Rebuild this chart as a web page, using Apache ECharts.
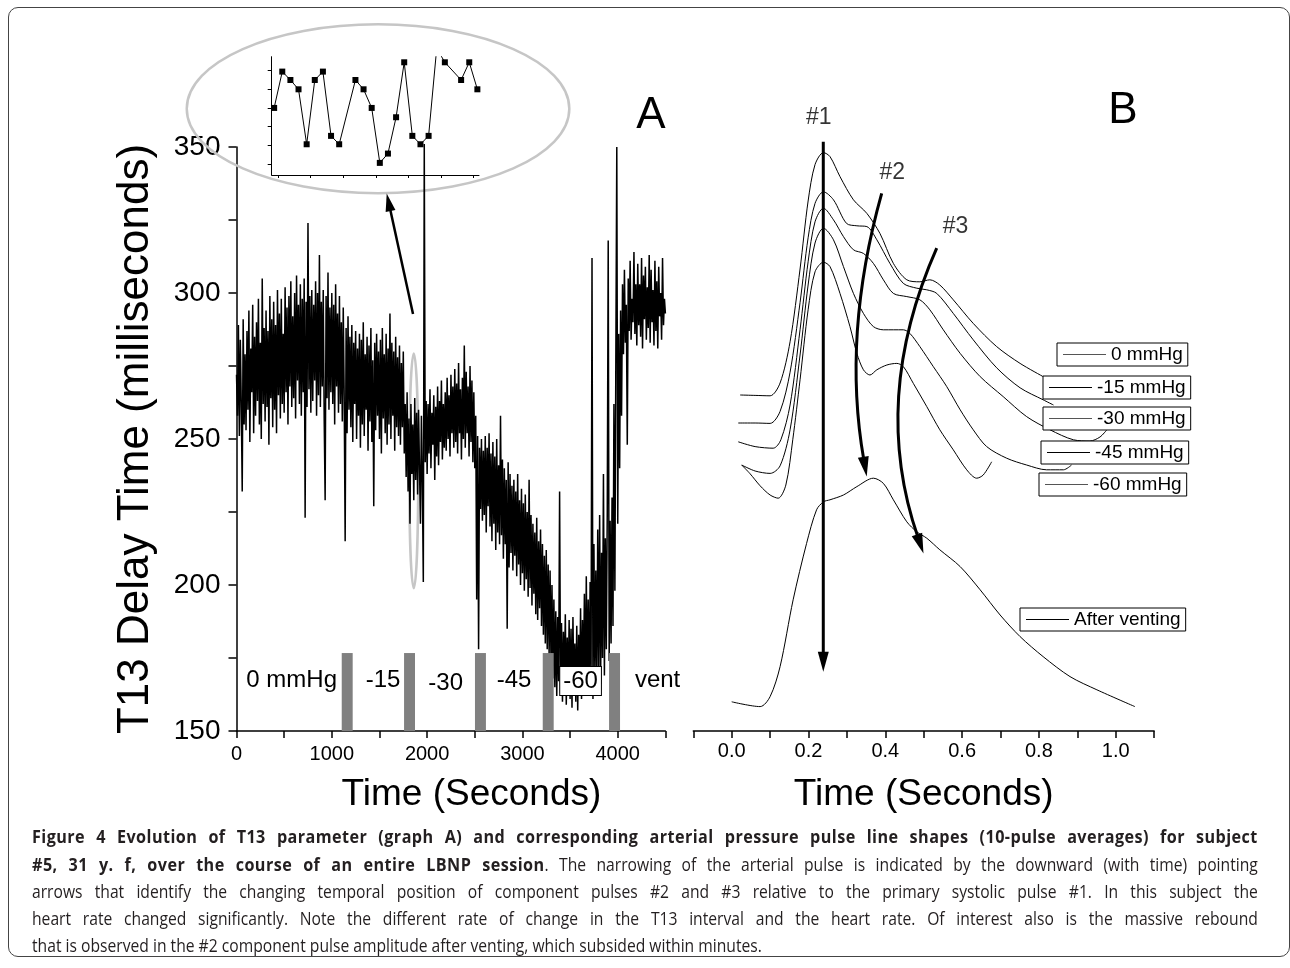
<!DOCTYPE html>
<html><head><meta charset="utf-8">
<script src="https://cdn.jsdelivr.net/npm/echarts@6.0.0/dist/echarts.min.js"></script>
<style>
html,body{margin:0;padding:0;background:#fff;width:1290px;height:968px;overflow:hidden}
#chart{position:absolute;left:0;top:0;width:1290px;height:968px}
#frame{position:absolute;left:8px;top:7px;width:1282px;height:950px;border:1px solid #444;border-radius:10px;box-sizing:border-box;pointer-events:none}
#cap{position:absolute;left:32px;top:822px;width:1409px;font-family:'Open Sans','Noto Sans',sans-serif;font-size:18px;line-height:27px;color:#231f20;transform:scaleX(0.87);transform-origin:0 0}
#cap .j{text-align:justify;text-align-last:justify}
#cap b{letter-spacing:0.5px;font-size:18.6px}
</style></head>
<body>
<div id="chart"></div>
<div id="frame"></div>
<div id="cap">
<div class="j"><b>Figure 4 Evolution of T13 parameter (graph A) and corresponding arterial pressure pulse line shapes (10-pulse averages) for subject</b></div>
<div class="j"><b>#5, 31 y. f, over the course of an entire LBNP session</b>. The narrowing of the arterial pulse is indicated by the downward (with time) pointing</div>
<div class="j">arrows that identify the changing temporal position of component pulses #2 and #3 relative to the primary systolic pulse #1. In this subject the</div>
<div class="j">heart rate changed significantly. Note the different rate of change in the T13 interval and the heart rate. Of interest also is the massive rebound</div>
<div>that is observed in the #2 component pulse amplitude after venting, which subsided within minutes.</div>
</div>
<script>
const FONT = "'Liberation Sans', Arial, Helvetica, sans-serif";

// ---- Panel A: T13 delay time trace (ms), one value every 10 s ----
const traceStep = 10;
const t13 = [
272,258,289,251,284,262,232,291,255,279,
253,287,260,294,249,281,266,296,252,285,
258,290,263,298,255,283,250,305,262,288,
256,294,261,287,248,299,264,291,254,297,
260,289,252,301,265,293,257,298,262,286,
259,302,266,295,255,299,268,304,261,292,
264,300,257,306,270,296,262,303,258,298,
266,305,223,297,261,324,267,299,259,301,
263,296,270,304,258,300,265,313,261,297,
268,301,257,229,299,264,307,260,295,266,
300,262,296,255,303,268,293,259,299,262,
290,256,295,264,215,288,252,292,260,285,
254,289,249,283,262,287,250,281,258,286,
247,284,255,290,251,279,260,285,246,282,
256,288,249,277,227,283,253,286,258,280,
250,284,245,288,257,279,252,286,248,281,
255,293,250,283,258,280,246,285,254,278,
251,282,248,276,254,280,245,262,237,266,
232,257,221,262,238,255,229,264,236,259,
231,260,240,221,258,235,201,351,242,263,
238,262,245,267,240,259,248,265,236,261,
244,268,241,263,249,270,243,262,247,266,
246,271,250,265,244,272,252,268,247,274,
249,269,245,276,252,267,243,271,250,282,
247,273,252,268,244,275,249,270,242,266,
240,258,195,251,178,247,226,250,222,246,
224,251,218,247,227,252,220,245,215,249,
221,244,212,250,218,241,214,258,217,243,
209,240,214,236,185,242,206,238,211,234,
205,236,210,232,203,238,207,229,200,233,
204,228,198,231,202,225,196,236,199,224,
193,221,197,218,190,223,188,215,192,219,
186,214,183,210,180,212,178,207,176,205,
172,200,168,195,165,191,162,189,167,232,
163,187,160,184,166,190,159,182,164,188,
161,185,158,189,163,180,160,186,157,183,
164,192,161,188,167,197,162,203,166,195,
163,201,168,312,161,214,170,205,165,219,
172,224,166,211,175,238,169,216,178,225,
318,174,222,180,230,186,262,198,278,350,
221,286,240,294,258,303,279,308,283,296,
248,305,287,311,284,298,290,314,286,303,
282,310,289,303,285,312,281,306,291,309,
284,302,288,313,283,308,290,301,282,311,
287,304,281,309,292,300,284,312,289,298,
293];

// LBNP phase change markers (s) and labels
const phaseBarStart = [1104, 1758, 2502, 3213, 3909];
const phaseBarWidth = 115;
const phaseBarTop = 176.7;
const phaseLabels = ['0 mmHg', '-15', '-30', '-45', '-60', 'vent'];
const phaseLabelT = [579, 1537, 2195, 2912, 3610, 4418];
const phaseLabelV = [167.5, 167.5, 166.3, 167.5, 167.1, 167.5];

// highlight ellipses (centre t, centre v, half-width s, half-height ms)
const ellipseT = [1860, 1485];
const ellipseV = [239.1, 363.1];
const ellipseHalfT = [47, 2007];
const ellipseHalfV = [40.2, 28.9];
// arrow from zoomed region to inset: [start, control, tip]
const zoomArrow = [[1852, 292.8], [1714, 313.45], [1576, 334.1]];

// inset: beat-by-beat zoom
const insetIdx = [0,1,2,3,4,5,6,7,8,10,11,12,13,14,15,16,17,18,19,20,21,23,24,25];
const insetVal = [240,259.5,255,250,220.5,255,259.5,225,220.5,255,250,240,210.5,215.5,235,264.5,225,220.5,225,272,264.5,255,264.5,250];
const insetTickX = [0.5,4.5,8.5,12.5,16.5,20.5,24.5];
const insetTickY = [210,220,230,240,250,260];

// ---- Panel B: pulse shapes [time s, relative amplitude] ----
const curveNames = ['0 mmHg','-15 mmHg','-30 mmHg','-45 mmHg','-60 mmHg','After venting'];
const pulse0 = [[0.022,84.0],[0.061,83.9],[0.100,83.8],[0.126,87.0],[0.152,97.3],[0.178,115.5],[0.199,132.5],[0.217,141.6],[0.239,144.6],[0.256,143.6],[0.282,138.6],[0.317,132.8],[0.352,129.4],[0.386,124.4],[0.421,116.9],[0.456,112.8],[0.490,112.3],[0.516,112.8],[0.542,111.5],[0.577,107.8],[0.629,101.9],[0.690,96.1],[0.751,91.9],[0.811,88.6]];
const pulse15 = [[0.017,77.0],[0.061,77.0],[0.100,76.9],[0.126,79.9],[0.152,89.7],[0.178,107.1],[0.199,123.3],[0.217,131.9],[0.239,134.8],[0.265,132.8],[0.299,126.9],[0.326,126.3],[0.352,126.1],[0.378,122.8],[0.412,116.9],[0.447,111.9],[0.482,110.7],[0.508,110.3],[0.534,109.4],[0.577,104.4],[0.629,97.8],[0.690,90.8],[0.751,85.8],[0.811,82.8],[0.838,81.5]];
const pulse30 = [[0.017,72.3],[0.061,71.1],[0.108,70.7],[0.128,72.8],[0.152,81.5],[0.178,100.3],[0.199,117.3],[0.217,127.3],[0.239,130.7],[0.265,127.8],[0.291,123.6],[0.317,120.3],[0.343,119.4],[0.369,116.9],[0.395,112.8],[0.421,109.4],[0.456,108.6],[0.490,107.8],[0.516,105.3],[0.551,100.3],[0.595,94.4],[0.647,88.6],[0.707,83.6],[0.768,78.6],[0.829,75.3],[0.890,72.8],[0.933,72.5],[0.959,73.5],[0.977,75.3]];
const pulse45 = [[0.026,66.5],[0.061,65.0],[0.100,64.4],[0.126,66.3],[0.152,75.3],[0.178,94.0],[0.199,111.5],[0.217,122.0],[0.239,125.7],[0.265,122.8],[0.291,116.1],[0.317,109.4],[0.343,104.4],[0.369,101.1],[0.395,100.3],[0.421,100.3],[0.447,100.3],[0.464,99.4],[0.490,96.1],[0.525,91.1],[0.560,86.1],[0.595,80.3],[0.629,75.3],[0.664,71.1],[0.716,68.2],[0.768,66.5],[0.820,65.3],[0.864,65.3],[0.885,66.5]];
const pulse60 = [[0.026,66.5],[0.048,64.3],[0.074,61.3],[0.100,59.0],[0.121,58.2],[0.141,61.5],[0.159,72.8],[0.178,87.8],[0.199,105.3],[0.217,114.8],[0.239,117.2],[0.256,116.1],[0.282,109.4],[0.308,101.1],[0.326,94.4],[0.343,90.3],[0.360,89.0],[0.378,90.3],[0.404,91.5],[0.430,91.9],[0.447,91.1],[0.473,86.9],[0.508,81.1],[0.542,75.3],[0.577,70.3],[0.612,65.3],[0.638,63.2],[0.655,64.0],[0.677,67.3]];
const pulseVent = [[0.000,7.3],[0.074,6.1],[0.100,8.6],[0.126,16.1],[0.160,32.8],[0.195,46.9],[0.221,55.3],[0.239,57.3],[0.256,57.8],[0.291,59.0],[0.326,61.1],[0.369,63.2],[0.395,61.9],[0.421,57.8],[0.456,52.3],[0.482,49.8],[0.508,48.2],[0.542,45.3],[0.595,41.1],[0.647,35.3],[0.699,29.0],[0.751,23.6],[0.811,18.6],[0.881,13.6],[0.951,10.3],[1.050,6.1]];
const pulseCurves = [pulse0, pulse15, pulse30, pulse45, pulse60, pulseVent];

const pulseLabels = ['#1', '#2', '#3'];
const pulseLabelT = [0.227, 0.418, 0.583];
const pulseLabelV = [153.25, 139.5, 126.1];
// component-pulse arrows: [start, control, tip]
const arrow1 = [[0.2385, 147.3], [0.2385, 82.3], [0.2385, 14.8]];
const arrow2 = [[0.3906, 134.4], [0.2872, 99.0], [0.3516, 63.6]];
const arrow3 = [[0.5339, 120.7], [0.3602, 83.0], [0.4995, 44.4]];

// legend layout
const legendLeft = [1057, 1043, 1043, 1041, 1039, 1020];
const legendTop = [343, 376, 407, 441, 473, 608];
const legendIconColor = ['#555', '#000', '#555', '#000', '#555', '#000'];

const axisBase = {
  axisLine: {show: true, onZero: false, lineStyle: {color: '#000', width: 1.5}},
  axisTick: {show: true, length: 7, lineStyle: {color: '#000', width: 1.5}},
  splitLine: {show: false}
};

function arrowSeries(xi, yi, arrows, width, headL, headW) {
  return {
    type: 'custom', xAxisIndex: xi, yAxisIndex: yi, silent: true, clip: false, z: 6,
    data: arrows.map(a => [a[0][0], a[0][1], a[1][0], a[1][1], a[2][0], a[2][1]]),
    renderItem: (params, api) => {
      const p0 = api.coord([api.value(0), api.value(1)]);
      const c = api.coord([api.value(2), api.value(3)]);
      const p1 = api.coord([api.value(4), api.value(5)]);
      let dx = p1[0] - c[0], dy = p1[1] - c[1];
      const L = Math.hypot(dx, dy) || 1; dx /= L; dy /= L;
      const bx = p1[0] - dx * headL, by = p1[1] - dy * headL;
      const nx = -dy, ny = dx;
      return {type: 'group', children: [
        {type: 'bezierCurve',
          shape: {x1: p0[0], y1: p0[1], cpx1: c[0], cpy1: c[1], x2: bx + dx * 3, y2: by + dy * 3},
          style: {stroke: '#000', lineWidth: width, fill: 'none'}},
        {type: 'polygon',
          shape: {points: [[p1[0], p1[1]], [bx + nx * headW / 2, by + ny * headW / 2], [bx - nx * headW / 2, by - ny * headW / 2]]},
          style: {fill: '#000'}}
      ]};
    }
  };
}

const chart = echarts.init(document.getElementById('chart'), null, {renderer: 'canvas'});
const option = {
  animation: false,
  backgroundColor: '#fff',
  textStyle: {fontFamily: FONT},
  grid: [
    {left: 236.5, top: 147, width: 428.9, height: 584, outerBoundsMode: 'none'},
    {left: 693.3, top: 127, width: 460.8, height: 604, outerBoundsMode: 'none'},
    {left: 271.7, top: 56.7, width: 207.3, height: 118.3, outerBoundsMode: 'none'}
  ],
  xAxis: [
    Object.assign({}, axisBase, {
      gridIndex: 0, type: 'value', min: 0, max: 4500, interval: 500,
      axisLabel: {color: '#000', fontSize: 20, margin: 13, fontFamily: FONT,
        formatter: v => (v % 1000 === 0 && v <= 4000) ? String(v) : ''},
      name: 'Time (Seconds)', nameLocation: 'middle', nameGap: 45,
      nameTextStyle: {color: '#000', fontSize: 37, fontFamily: FONT, padding: [0, 0, 0, 41]}
    }),
    Object.assign({}, axisBase, {
      gridIndex: 1, type: 'value', min: -0.1, max: 1.1, interval: 0.1,
      axisLabel: {color: '#000', fontSize: 20, margin: 10, fontFamily: FONT,
        formatter: v => { const k = Math.round(v * 10); return (k % 2 === 0 && k >= 0 && k <= 10) ? (k / 10).toFixed(1) : ''; }},
      name: 'Time (Seconds)', nameLocation: 'middle', nameGap: 45,
      nameTextStyle: {color: '#000', fontSize: 37, fontFamily: FONT}
    }),
    {gridIndex: 2, type: 'value', min: -0.3, max: 25.2,
      axisLine: {show: true, onZero: false, lineStyle: {color: '#000', width: 1}},
      axisTick: {show: true, customValues: insetTickX, length: 3, lineStyle: {color: '#000', width: 1}},
      axisLabel: {show: false}, splitLine: {show: false}}
  ],
  yAxis: [
    Object.assign({}, axisBase, {
      gridIndex: 0, type: 'value', min: 150, max: 350, interval: 25,
      axisTick: {show: true, length: 8, lineStyle: {color: '#000', width: 1.5}},
      axisLabel: {color: '#000', fontSize: 28, margin: 16, fontFamily: FONT,
        formatter: v => (v % 50 === 0) ? String(v) : ''},
      name: 'T13 Delay Time (milliseconds)', nameLocation: 'middle', nameGap: 79,
      nameTextStyle: {color: '#000', fontSize: 44, fontFamily: FONT}
    }),
    {gridIndex: 1, type: 'value', min: 0, max: 151, show: false},
    {gridIndex: 2, type: 'value', min: 204, max: 267.5,
      axisLine: {show: true, onZero: false, lineStyle: {color: '#000', width: 1}},
      axisTick: {show: true, customValues: insetTickY, length: 4, lineStyle: {color: '#000', width: 1}},
      axisLabel: {show: false}, splitLine: {show: false}}
  ],
  legend: curveNames.map((name, i) => ({
    data: [name], left: legendLeft[i], top: legendTop[i], orient: 'horizontal',
    backgroundColor: '#fff', borderColor: '#000', borderWidth: 1, borderRadius: 0,
    padding: [2, 5, 2, 6], itemWidth: 43, itemHeight: 1, itemGap: 0, icon: 'rect',
    itemStyle: {color: legendIconColor[i], borderWidth: 0},
    textStyle: {fontSize: 19, color: '#000', fontFamily: FONT},
    selectedMode: false
  })),
  graphic: [
    {type: 'text', x: 651, y: 116, silent: true, style: {text: 'A', font: '44px ' + FONT, fill: '#000', align: 'center', verticalAlign: 'middle'}},
    {type: 'text', x: 1123, y: 111, silent: true, style: {text: 'B', font: '44px ' + FONT, fill: '#000', align: 'center', verticalAlign: 'middle'}}
  ],
  series: [
    {
      type: 'custom', xAxisIndex: 0, yAxisIndex: 0, silent: true, clip: false, z: 1,
      data: ellipseT.map((t, i) => [t, ellipseV[i], ellipseHalfT[i], ellipseHalfV[i]]),
      renderItem: (params, api) => {
        const c = api.coord([api.value(0), api.value(1)]);
        const s = api.size([api.value(2), api.value(3)]);
        return {type: 'ellipse', shape: {cx: c[0], cy: c[1], rx: s[0], ry: s[1]},
          style: {fill: 'none', stroke: '#c6c6c6', lineWidth: 2.5}};
      }
    },
    {
      name: 'T13', type: 'line', xAxisIndex: 0, yAxisIndex: 0, silent: true, clip: false,
      data: t13.map((v, i) => [i * traceStep, v]),
      symbol: 'none', sampling: null, lineStyle: {color: '#000', width: 1.5}, z: 2
    },
    {
      type: 'custom', xAxisIndex: 0, yAxisIndex: 0, silent: true, z: 5,
      data: phaseBarStart.map(s => [s, s + phaseBarWidth, phaseBarTop]),
      renderItem: (params, api) => {
        const p0 = api.coord([api.value(0), api.value(2)]);
        const p1 = api.coord([api.value(1), 150]);
        return {type: 'rect', shape: {x: p0[0], y: p0[1], width: p1[0] - p0[0], height: p1[1] - p0[1]},
          style: {fill: '#808080'}};
      }
    },
    {
      type: 'scatter', xAxisIndex: 0, yAxisIndex: 0, silent: true, clip: false, z: 6, zlevel: 1,
      symbolSize: 1, itemStyle: {color: '#fff', opacity: 1},
      label: {show: true, position: 'inside', formatter: '{b}', color: '#000', fontSize: 24, fontFamily: FONT, opacity: 1},
      data: phaseLabels.map((n, i) => {
        const d = {name: n, value: [phaseLabelT[i], phaseLabelV[i]]};
        if (n === '-60') d.label = {backgroundColor: '#fff', borderColor: '#000', borderWidth: 1, padding: [2, 3, 2, 3]};
        return d;
      })
    },
    arrowSeries(0, 0, [zoomArrow], 2.5, 18, 10),
    {
      type: 'line', xAxisIndex: 2, yAxisIndex: 2, silent: true, clip: true, z: 3,
      data: insetIdx.map((x, i) => [x, insetVal[i]]),
      symbol: 'rect', symbolSize: 6, showSymbol: true,
      itemStyle: {color: '#000'}, lineStyle: {color: '#000', width: 1}
    },
    ...pulseCurves.map((c, i) => ({
      name: curveNames[i], type: 'line', xAxisIndex: 1, yAxisIndex: 1, silent: true, clip: false,
      data: c, smooth: 0.3, symbol: 'none', itemStyle: {color: '#000'},
      lineStyle: {color: '#000', width: 1}, z: 2
    })),
    {
      type: 'scatter', xAxisIndex: 1, yAxisIndex: 1, silent: true, clip: false, z: 6,
      symbolSize: 1, itemStyle: {color: '#fff'},
      label: {show: true, position: 'inside', formatter: '{b}', color: '#000', fontSize: 23, fontFamily: FONT},
      data: pulseLabels.map((n, i) => ({name: n, value: [pulseLabelT[i], pulseLabelV[i]]}))
    },
    arrowSeries(1, 1, [arrow1, arrow2, arrow3], 3, 20, 11)
  ]
};
chart.setOption(option);
</script>
</body></html>
